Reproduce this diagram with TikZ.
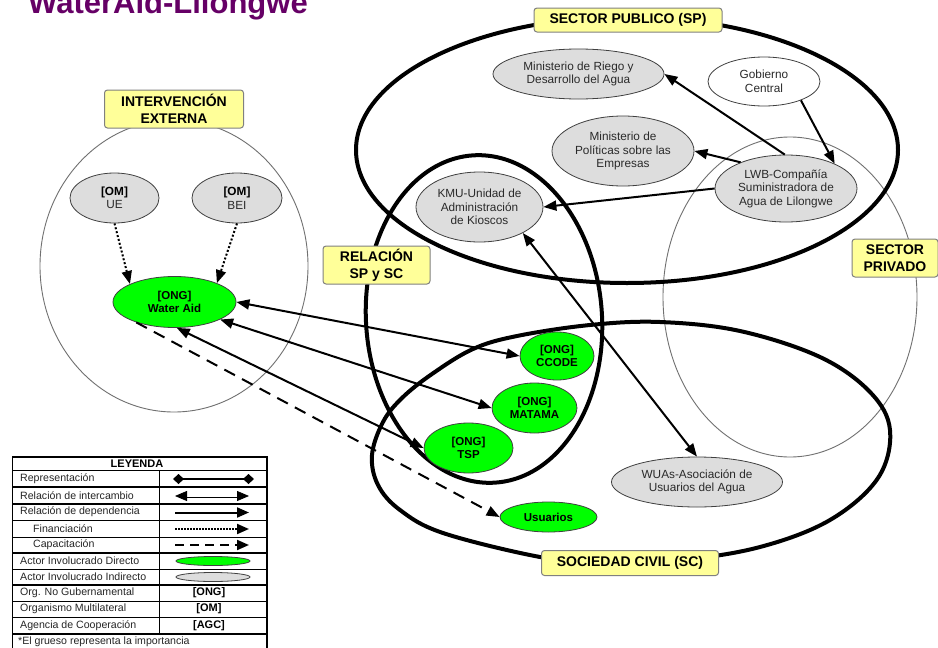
\documentclass[tikz,border=0pt]{standalone}
\usepackage{fontspec}
\setmainfont{Liberation Sans}
\usetikzlibrary{shapes.geometric,arrows.meta}
\definecolor{ttl}{HTML}{660066}
\definecolor{lblyellow}{HTML}{FFFF99}
\definecolor{ngray}{HTML}{DDDDDD}
\definecolor{ngreen}{HTML}{00FF00}
\definecolor{nborder}{HTML}{404040}
\definecolor{ntext}{HTML}{2A2A2A}
\definecolor{thinring}{HTML}{707070}
\newcommand\myfs[2]{\fontsize{#1}{#2}\selectfont}
\tikzset{
  bigtri/.tip={Triangle[length=13pt,width=10pt]},
  legtri/.tip={Triangle[length=12pt,width=10pt]},
  dmd/.tip={Diamond[length=11pt,width=10pt]},
  bigline/.style={line width=4pt},
  ring/.style={draw=thinring, line width=0.9pt},
  lbl/.style={draw=gray, fill=lblyellow, rounded corners=3pt, line width=1pt, align=center, inner sep=0pt, font=\bfseries\myfs{14}{16.5}},
  ind/.style={ellipse, draw=nborder, line width=0.8pt, fill=ngray, inner sep=0pt, align=center, text=ntext, font=\myfs{11.8}{13.5}},
  dir/.style={ellipse, draw=nborder, line width=0.8pt, fill=ngreen, inner sep=0pt, align=center, font=\bfseries\myfs{11.5}{13.3}},
  depend/.style={line width=2pt, -bigtri},
  exch/.style={line width=2pt, bigtri-bigtri},
  financ/.style={line width=2pt, dash pattern=on 2pt off 2pt, -bigtri},
  capac/.style={line width=2pt, dash pattern=on 12pt off 8pt, -bigtri},
  legtxt/.style={anchor=west, inner sep=0pt, font=\myfs{10.6}{12}, text=black!85},
  legbold/.style={inner sep=0pt, font=\bfseries\myfs{11}{12}},
}
\begin{document}
\begin{tikzpicture}[x=1pt,y=-1pt]
\useasboundingbox (0,0) rectangle (938,648);
\fill[white] (0,0) rectangle (938,648);

% title
\node[anchor=base west, inner sep=0pt, font=\bfseries\myfs{31}{34}, text=ttl] (title) at (28,13) {WaterAid-Lilongwe};

% regions
\draw[ring] (174,266) ellipse [x radius=134, y radius=146];
\draw[ring] (790,297) ellipse [x radius=127, y radius=160];
\draw[bigline] (627,150) ellipse [x radius=271, y radius=133];
\draw[bigline, rotate around={4:(484,319)}] (484,319) ellipse [x radius=118, y radius=164];
\draw[bigline] plot[smooth cycle, tension=0.6] coordinates {(660,322) (740,331) (820,357) (870,392) (890,430) (878,478) (830,520) (760,547) (680,560) (600,562) (540,557) (443,533) (400,510) (378,485) (372,455) (383,422) (402,398) (432,374) (473,349) (517,336) (590,325)};

% labels
\node[lbl, minimum width=188, minimum height=24] (splbl) at (628,20) {SECTOR PUBLICO (SP)};
\node[lbl, minimum width=139, minimum height=38] (ielbl) at (174,109) {INTERVENCIÓN\\EXTERNA};
\node[lbl, minimum width=107, minimum height=38] (rellbl) at (376.5,265) {RELACIÓN\\SP y SC};
\node[lbl, minimum width=86, minimum height=38] (privlbl) at (895,258) {SECTOR\\PRIVADO};
\node[lbl, minimum width=177, minimum height=25] (sclbl) at (630,563) {SOCIEDAD CIVIL (SC)};

% actors
\node[ind, minimum width=171, minimum height=50] (riego) at (578.5,74) {Ministerio de Riego y\\Desarrollo del Agua};
\node[ind, fill=white, minimum width=112, minimum height=49] (gob) at (764,81.5) {Gobierno\\Central};
\node[ind, minimum width=142, minimum height=70] (pol) at (623,151) {Ministerio de\\Políticas sobre las\\Empresas};
\node[ind, minimum width=142, minimum height=67] (lwb) at (786,188.5) {LWB-Compañía\\Suministradora de\\Agua de Lilongwe};
\node[ind, minimum width=127, minimum height=70] (kmu) at (479.5,207) {KMU-Unidad de\\Administración\\de Kioscos};
\node[ind, minimum width=171, minimum height=50] (wuas) at (697,482) {WUAs-Asociación de\\Usuarios del Agua};
\node[ind, minimum width=89, minimum height=50] (ue) at (114.5,198) {\textbf{\textcolor{black}{[OM]}}\\UE};
\node[ind, minimum width=90, minimum height=50] (bei) at (237,198) {\textbf{\textcolor{black}{[OM]}}\\BEI};
\node[dir, minimum width=123, minimum height=51] (wa) at (174.5,302) {[ONG]\\Water Aid};
\node[dir, minimum width=74, minimum height=48] (ccode) at (557,356) {[ONG]\\CCODE};
\node[dir, minimum width=85, minimum height=50] (matama) at (534.5,408) {[ONG]\\MATAMA};
\node[dir, minimum width=89, minimum height=50] (tsp) at (468.5,448) {[ONG]\\TSP};
\node[dir, minimum width=97, minimum height=30] (usu) at (548.5,517) {Usuarios};

% relations
\draw[financ] (ue.south) -- (wa.158);
\draw[financ] (bei.south) -- (wa.24);
\draw[exch] (wa.east) -- (ccode.west);
\draw[exch] (wa.-21) -- (matama.west);
\draw[exch] (wa.-85) -- (tsp.west);
\draw[capac] (wa.-152) -- (usu.west);
\draw[depend] (lwb.92) -- (riego.east);
\draw[depend] (lwb.150) -- (pol.east);
\draw[depend] (lwb.west) -- (kmu.east);
\draw[depend] (gob.-27) -- (lwb.27);
\draw[exch] (kmu.-31) -- (wuas.north);

% legend
\fill[white] (12.5,457) rectangle (267,660);
\foreach \yy/\ww in {470/1,487/2,504/2,520.5/1,537/1,552.5/2,569/1,585/2,601/1,617/1,634/2}
  \draw[line width=\ww pt] (12.5,\yy) -- (267,\yy);
\draw[line width=1pt] (159,470) -- (159,634);
\draw[line width=1.6pt] (12.5,457) rectangle (267,660);
\node[legbold] (lhead) at (137,463.5) {LEYENDA};
\node[legtxt] (lt1) at (20,478.5) {Representación};
\node[legtxt] (lt2) at (20,495.5) {Relación de intercambio};
\node[legtxt] (lt3) at (20,512) {Relación de dependencia};
\node[legtxt] (lt4) at (33,528.5) {Financiación};
\node[legtxt] (lt5) at (33,545) {Capacitación};
\node[legtxt] (lt6) at (20,561) {Actor Involucrado Directo};
\node[legtxt] (lt7) at (20,577) {Actor Involucrado Indirecto};
\node[legtxt] (lt8) at (20,593) {Org. No Gubernamental};
\node[legtxt] (lt9) at (20,609) {Organismo Multilateral};
\node[legtxt] (lt10) at (20,625.5) {Agencia de Cooperación};
\node[legtxt] (lt11) at (18,642) {*El grueso representa la importancia};
\coordinate (s1a) at (173,479); \coordinate (s1b) at (254,479);
\coordinate (s2a) at (175,496); \coordinate (s2b) at (249,496);
\coordinate (s3a) at (175,512.5); \coordinate (s3b) at (249,512.5);
\coordinate (s4a) at (175,529); \coordinate (s4b) at (249,529);
\coordinate (s5a) at (175,545); \coordinate (s5b) at (249,545);
\draw[line width=1.6pt, dmd-dmd] (s1a) -- (s1b);
\draw[line width=0.8pt, double, double distance=1.4pt, legtri-legtri] (s2a) -- (s2b);
\draw[line width=2pt, -legtri] (s3a) -- (s3b);
\draw[line width=2pt, dash pattern=on 1.5pt off 1.5pt, -legtri] (s4a) -- (s4b);
\draw[line width=2pt, dash pattern=on 9pt off 6pt, -legtri] (s5a) -- (s5b);
\node[ellipse, draw=nborder, line width=0.8pt, fill=ngreen, minimum width=74, minimum height=9, inner sep=0pt] (ls6) at (213,561) {};
\node[ellipse, draw=nborder, line width=0.8pt, fill=ngray, minimum width=74, minimum height=9, inner sep=0pt] (ls7) at (213,577) {};
\node[legbold] (ls8) at (209,593) {[ONG]};
\node[legbold] (ls9) at (209,609) {[OM]};
\node[legbold] (ls10) at (209,625.5) {[AGC]};
\end{tikzpicture}
\end{document}
